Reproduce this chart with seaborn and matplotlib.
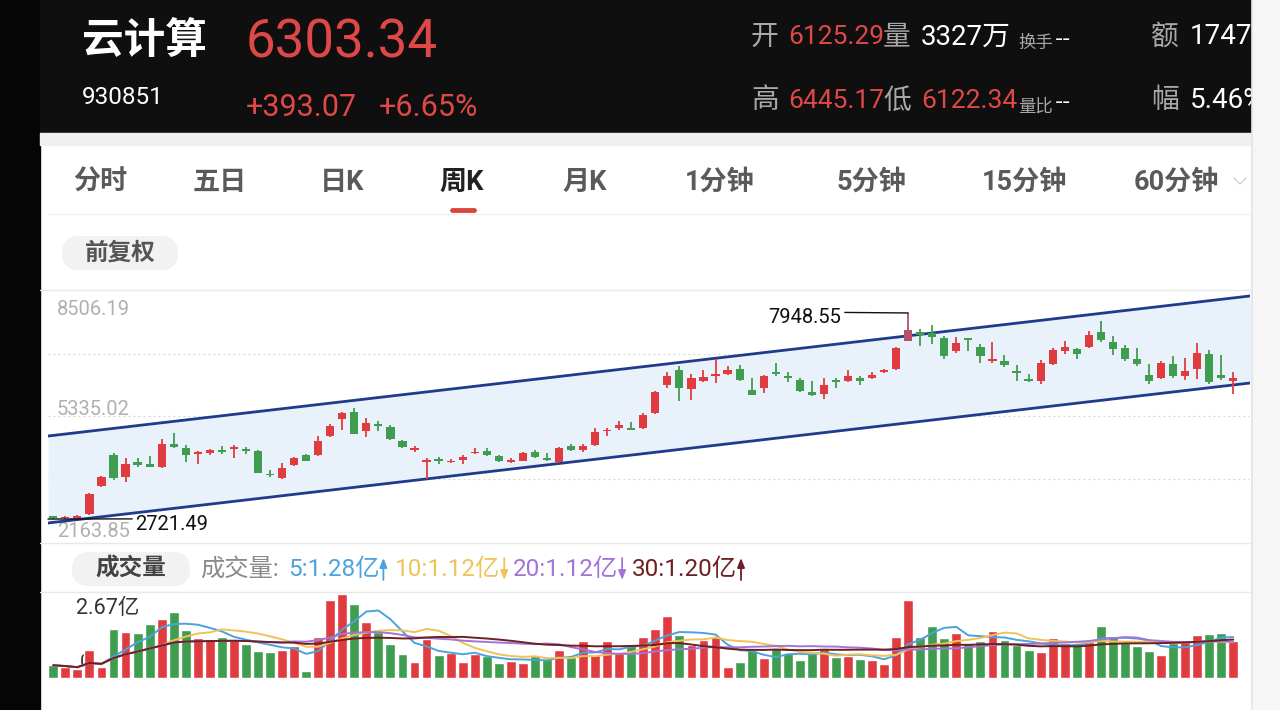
import numpy as np
import pandas as pd
import matplotlib
matplotlib.use("Agg")
import matplotlib.pyplot as plt
import seaborn as sns
from matplotlib.patches import Rectangle, FancyBboxPatch

# ---------------- data ----------------
opens = [2786, 2745, 2753, 2854, 3561, 4344, 3780, 4176, 4117, 4033,
         4622, 4513, 4361, 4386, 4470, 4487, 4496, 4437, 3864, 3755,
         4092, 4344, 4353, 4832, 5270, 5439, 4950, 5144, 5060, 4706,
         4470, 4176, 4235, 4159, 4218, 4386, 4454, 4319, 4176, 4201,
         4428, 4260, 4176, 4580, 4470, 4597, 4950, 5018, 5035, 5018,
         5414, 6112, 6491, 6011, 6222, 6340, 6390, 6533, 6003, 6053,
         6449, 6348, 6256, 5944, 5902, 6222, 6222, 6306, 6306, 6449,
         6533, 7249, 7460, 7434, 7308, 6996, 7308, 7098, 6727, 6719,
         6474, 6281, 6222, 6643, 6996, 7039, 7081, 7476, 7207, 7064,
         6786, 6382, 6306, 6660, 6340, 6533, 6912, 6365, 6230]
highs = [2803, 2803, 2836, 3393, 3814, 4403, 4260, 4260, 4327, 4748,
         4908, 4588, 4454, 4504, 4571, 4597, 4555, 4470, 3965, 4134,
         4302, 4361, 4824, 5127, 5439, 5548, 5296, 5203, 5110, 4723,
         4580, 4260, 4302, 4243, 4344, 4529, 4513, 4336, 4260, 4411,
         4470, 4386, 4555, 4614, 4622, 5035, 5018, 5203, 5186, 5414,
         5969, 6449, 6592, 6407, 6491, 6786, 6592, 6617, 6306, 6382,
         6676, 6449, 6306, 6222, 6306, 6306, 6491, 6340, 6449, 6517,
         7080, 7948.55, 7544, 7653, 7375, 7350, 7308, 7165, 7207, 6887,
         6618, 6407, 6744, 7055, 7232, 7055, 7485, 7737, 7375, 7140,
         7055, 6643, 6727, 6845, 6811, 7190, 7022, 6887, 6445]
lows = [2721.49, 2730, 2725, 2820, 3527, 3713, 3671, 4033, 4033, 4025,
        4530, 4167, 4117, 4344, 4369, 4277, 4361, 3881, 3780, 3729,
        4066, 4184, 4327, 4790, 4976, 4866, 4807, 4942, 4723, 4529,
        4428, 3729, 4108, 4134, 4117, 4361, 4319, 4176, 4151, 4184,
        4260, 4201, 4151, 4445, 4428, 4571, 4824, 4976, 4976, 5000,
        5397, 6045, 5717, 5750, 6197, 6171, 6382, 6222, 5860, 5927,
        6340, 6197, 5944, 5835, 5776, 6045, 6197, 6129, 6281, 6424,
        6510, 7232, 7123, 7165, 6769, 6929, 6996, 6676, 6685, 6575,
        6222, 6197, 6154, 6618, 6912, 6769, 7055, 7207, 6895, 6727,
        6601, 6154, 6281, 6306, 6256, 6281, 6138, 6256, 5890]
closes = [2745, 2761, 2803, 3350, 3780, 3755, 4117, 4092, 4049, 4622,
          4538, 4344, 4428, 4470, 4411, 4555, 4445, 3898, 3830, 4024,
          4260, 4201, 4706, 5085, 5422, 4891, 5169, 5085, 4748, 4555,
          4513, 4201, 4193, 4201, 4285, 4428, 4344, 4193, 4218, 4386,
          4302, 4218, 4513, 4470, 4580, 4933, 4992, 5119, 4976, 5355,
          5944, 6340, 6053, 6298, 6323, 6390, 6508, 6256, 5877, 6340,
          6390, 6298, 5969, 5860, 6129, 6197, 6340, 6222, 6382, 6491,
          7055, 7519, 7401, 7333, 6845, 7190, 7266, 6853, 6769, 6618,
          6432, 6213, 6677, 7013, 7081, 6912, 7392, 7266, 7039, 6769,
          6643, 6222, 6677, 6340, 6474, 6929, 6197, 6306, 6303.34]
volumes = [0.40, 0.35, 0.27, 0.87, 0.33, 1.54, 1.46, 1.42, 1.70, 1.84,
           2.06, 1.51, 1.26, 1.21, 1.28, 1.21, 1.06, 0.84, 0.82, 0.89,
           1.02, 0.22, 1.28, 2.44, 2.65, 2.32, 1.75, 1.44, 1.06, 0.75,
           0.51, 1.21, 0.73, 0.77, 0.51, 0.75, 0.68, 0.46, 0.54, 0.48,
           0.68, 0.61, 0.87, 0.66, 1.16, 0.71, 1.15, 0.82, 1.08, 1.30,
           1.55, 1.94, 1.35, 1.04, 1.19, 1.30, 0.36, 0.49, 0.88, 0.62,
           0.94, 0.80, 0.57, 0.78, 0.91, 0.65, 0.70, 0.60, 0.55, 0.44,
           1.28, 2.44, 1.28, 1.63, 1.25, 1.42, 1.11, 1.16, 1.49, 1.19,
           1.04, 0.88, 0.83, 1.27, 1.09, 1.11, 1.14, 1.63, 1.30, 1.14,
           0.99, 0.86, 0.73, 1.09, 1.14, 1.35, 1.37, 1.40, 1.17]

price_top, price_bottom = 8506.19, 2163.85
vol_top = 2.67
price_tick_labels = ["8506.19", "5335.02", "2163.85"]
channel_x = [-0.44, 99.39]
channel_upper = [4827, 8380]
channel_lower = [2620, 6172]
hi_label, lo_label = "7948.55", "2721.49"

tabs = ["分时", "五日", "日K", "周K", "月K", "1分钟", "5分钟", "15分钟", "60分钟"]
tab_x = [100, 220, 342, 462, 585, 720, 872, 1024, 1176]
ma_periods = [5, 10, 20, 30]
ma_labels = ["5:1.28亿", "10:1.12亿", "20:1.12亿", "30:1.20亿"]
ma_trend = ["up", "down", "down", "up"]

# ---------------- style ----------------
sns.set_theme(style="white")
plt.rcParams["font.family"] = ["Roboto", "Noto Sans CJK SC", "DejaVu Sans"]
plt.rcParams["axes.unicode_minus"] = False

RED = "#e03c40"
GREEN = "#3f9d50"
HRED = "#e04848"
GRAY = "#a8a8a8"
MA_COLORS = ["#4aa3df", "#f0c25a", "#a274d8", "#6e1f22"]

W, H = 1280, 710
fig = plt.figure(figsize=(12.8, 7.1), dpi=100)
fig.patch.set_facecolor("white")


def fbox(l, t, r, b):
    return [l / W, 1 - b / H, (r - l) / W, (b - t) / H]


bg = fig.add_axes([0, 0, 1, 1], zorder=0)
bg.set_xlim(0, W)
bg.set_ylim(H, 0)
bg.axis("off")


def T(x, y, s, size, color, weight="normal", ha="left", va="center", family=None):
    kw = {}
    if family is not None:
        kw["family"] = family
    return bg.text(x, y, s, fontsize=size, color=color, fontweight=weight, ha=ha, va=va, **kw)


# header
bg.add_patch(Rectangle((0, 0), 40, H, color="#050505", zorder=1))
bg.add_patch(Rectangle((40, 0), 1212, 133, color="#0f0f0f", zorder=1))
bg.add_patch(Rectangle((40, 133), 1212, 12, color="#f0f0f0", zorder=1))

T(82, 41, "云计算", 30, "white", "bold")
T(246, 43, "6303.34", 38, HRED)
T(82, 98, "930851", 17.5, "white")
T(246, 107, "+393.07", 22, HRED)
T(379, 107, "+6.65%", 22, HRED)

T(751, 37, "开", 20, GRAY)
T(788, 37, "6125.29", 19, HRED)
T(883, 37, "量", 20, GRAY)
T(921, 37, "3327万", 20, "white")
T(1018, 43, "换手", 12.5, GRAY)
T(1055, 39, "--", 16, "white", family="DejaVu Sans")
T(1151, 37, "额", 20, GRAY)
T(1190, 37, "1747", 20, "white")

T(751, 101, "高", 20, GRAY)
T(788, 101, "6445.17", 19, HRED)
T(883, 101, "低", 20, GRAY)
T(921, 101, "6122.34", 19, HRED)
T(1018, 106, "量比", 12.5, GRAY)
T(1055, 102, "--", 16, "white", family="DejaVu Sans")
T(1151, 101, "幅", 20, GRAY)
T(1190, 101, "5.46%", 20, "white")

# tabs
for name, x in zip(tabs, tab_x):
    if name == "周K":
        T(x, 182, name, 19.5, "#222222", "bold", ha="center")
    else:
        T(x, 182, name, 19.5, "#5a5a5a", "semibold", ha="center")
bg.plot([452, 474], [210, 210], color="#d9463f", lw=3.5, solid_capstyle="round", zorder=3)
bg.plot([1234, 1240, 1246], [178, 184, 178], color="#d0d0d0", lw=1.0)
bg.plot([48, 1250], [214, 214], color="#f0f0f0", lw=1)

# pills
bg.add_patch(FancyBboxPatch((62, 236), 116, 34, boxstyle="round,pad=0,rounding_size=17",
                            fc="#f2f2f2", ec="none", zorder=1))
T(120, 253, "前复权", 17, "#555555", "semibold", ha="center")
bg.add_patch(FancyBboxPatch((72, 552), 118, 34, boxstyle="round,pad=0,rounding_size=17",
                            fc="#f2f2f2", ec="none", zorder=1))
T(131, 569, "成交量", 17, "#444444", "bold", ha="center")

# separators
for yy in (290, 543, 592):
    bg.plot([40, 1252], [yy, yy], color="#e8e8e8", lw=1)

# volume legend
T(200, 569, "成交量:", 17.5, "#8a8a8a")
renderer = fig.canvas.get_renderer()
for lx, lab, col, tr in zip([288, 395, 513, 632], ma_labels, MA_COLORS, ma_trend):
    t = T(lx, 569, lab, 17.5, col)
    ext = t.get_window_extent(renderer)
    ax_x = ext.x1 + 4
    y_a, y_b = (558, 580) if tr == "up" else (580, 558)
    bg.annotate("", xy=(ax_x, y_a), xytext=(ax_x, y_b),
                arrowprops=dict(arrowstyle="-|>,head_length=0.55,head_width=0.22",
                                color=col, lw=1.3, shrinkA=0, shrinkB=0, mutation_scale=10))

# ---------------- price panel ----------------
n = len(opens)
idx = np.arange(n)
df = pd.DataFrame({"idx": idx, "open": opens, "high": highs, "low": lows,
                   "close": closes, "vol": volumes})
df["dir"] = np.where(df["close"] >= df["open"], "up", "down")
cmap = {"up": RED, "down": GREEN}

pa = fig.add_axes(fbox(48, 291, 1250, 541), zorder=2)
pa.patch.set_alpha(0)
pa.set_xlim(channel_x[0], channel_x[1])
pa.set_ylim(price_bottom, price_top)
pa.axis("off")

for k in (1, 2, 3):
    pa.axhline(price_bottom + k * (price_top - price_bottom) / 4, color="#d5d5d5",
               lw=0.9, ls=(0, (1.5, 2.5)), zorder=0)

pa.fill_between(channel_x, channel_lower, channel_upper, color="#e9f1fb", zorder=0.5, lw=0)
sns.lineplot(x=channel_x, y=channel_upper, ax=pa, color="#1f3c8c", lw=2.0, zorder=3)
sns.lineplot(x=channel_x, y=channel_lower, ax=pa, color="#1f3c8c", lw=2.0, zorder=3)

cols = [cmap[d] for d in df["dir"]]
hi_i = int(np.argmax(highs))
cols[hi_i] = "#b5506e"
body_lo = np.minimum(df["open"], df["close"])
body_h = np.maximum(np.abs(df["close"] - df["open"]), 40)
pa.vlines(idx, df["low"], df["high"], colors=cols, lw=1.3, zorder=4)
pa.bar(idx, body_h, bottom=body_lo, width=0.68, color=cols, zorder=5, lw=0)

# price scale labels
mid = (price_top + price_bottom) / 2
pa.annotate(price_tick_labels[0], xy=(0.0075, price_top), xycoords=("axes fraction", "data"),
            xytext=(0, -6.5), textcoords="offset points", va="top",
            fontsize=14.5, color="#b0b0b0")
pa.annotate(price_tick_labels[1], xy=(0.0075, mid), xycoords=("axes fraction", "data"),
            xytext=(0, -2.5), textcoords="offset points", va="bottom",
            fontsize=14.5, color="#b0b0b0")
pa.annotate(price_tick_labels[2], xy=(0.0075, price_bottom), xycoords=("axes fraction", "data"),
            xytext=(0, 0), textcoords="offset points", va="bottom",
            fontsize=14.5, color="#b0b0b0", zorder=2)

# high / low annotation
pa.annotate(hi_label, xy=(hi_i, highs[hi_i]), xytext=(-48, -3), textcoords="offset points",
            ha="right", va="center", fontsize=14.5, color="#111111",
            arrowprops=dict(arrowstyle="-", color="#111111", lw=1, shrinkA=0, shrinkB=0,
                            relpos=(1, 0.75)), zorder=6)
lo_i = int(np.argmin(lows))
pa.annotate(lo_label, xy=(channel_x[0], lows[lo_i]), xytext=(63, -4), textcoords="offset points",
            ha="left", va="center", fontsize=14.5, color="#111111",
            arrowprops=dict(arrowstyle="-", color="#111111", lw=1, shrinkA=0, shrinkB=0,
                            relpos=(0, 0.8)), zorder=6)

# ---------------- volume panel ----------------
av = fig.add_axes(fbox(48, 593, 1250, 678), zorder=2)
av.patch.set_alpha(0)
sns.barplot(data=df, x="idx", y="vol", hue="dir", palette=cmap, dodge=False,
            width=0.82, errorbar=None, saturation=1, legend=False, ax=av, zorder=2)
for p, col in zip(ma_periods, MA_COLORS):
    ma = df["vol"].rolling(p, min_periods=1).mean()
    sns.lineplot(x=idx, y=ma.values, ax=av, color=col, lw=1.4, zorder=3)
av.set_xlim(channel_x[0], channel_x[1])
av.set_ylim(0, vol_top)
av.axis("off")

T(76, 609, "2.67亿", 15.5, "#333333")
bg.text(80, 662, "0", fontsize=14, color="#333333", va="center", zorder=5)

# right page edge
ro = fig.add_axes(fbox(1252, 0, 1280, 710), zorder=10)
ro.set_facecolor("#f6f6f6")
ro.set_xticks([])
ro.set_yticks([])
for s in ro.spines.values():
    s.set_visible(False)
ro.spines["left"].set_visible(True)
ro.spines["left"].set_color("#e4e4e4")

fig.savefig("out.png", dpi=100)
